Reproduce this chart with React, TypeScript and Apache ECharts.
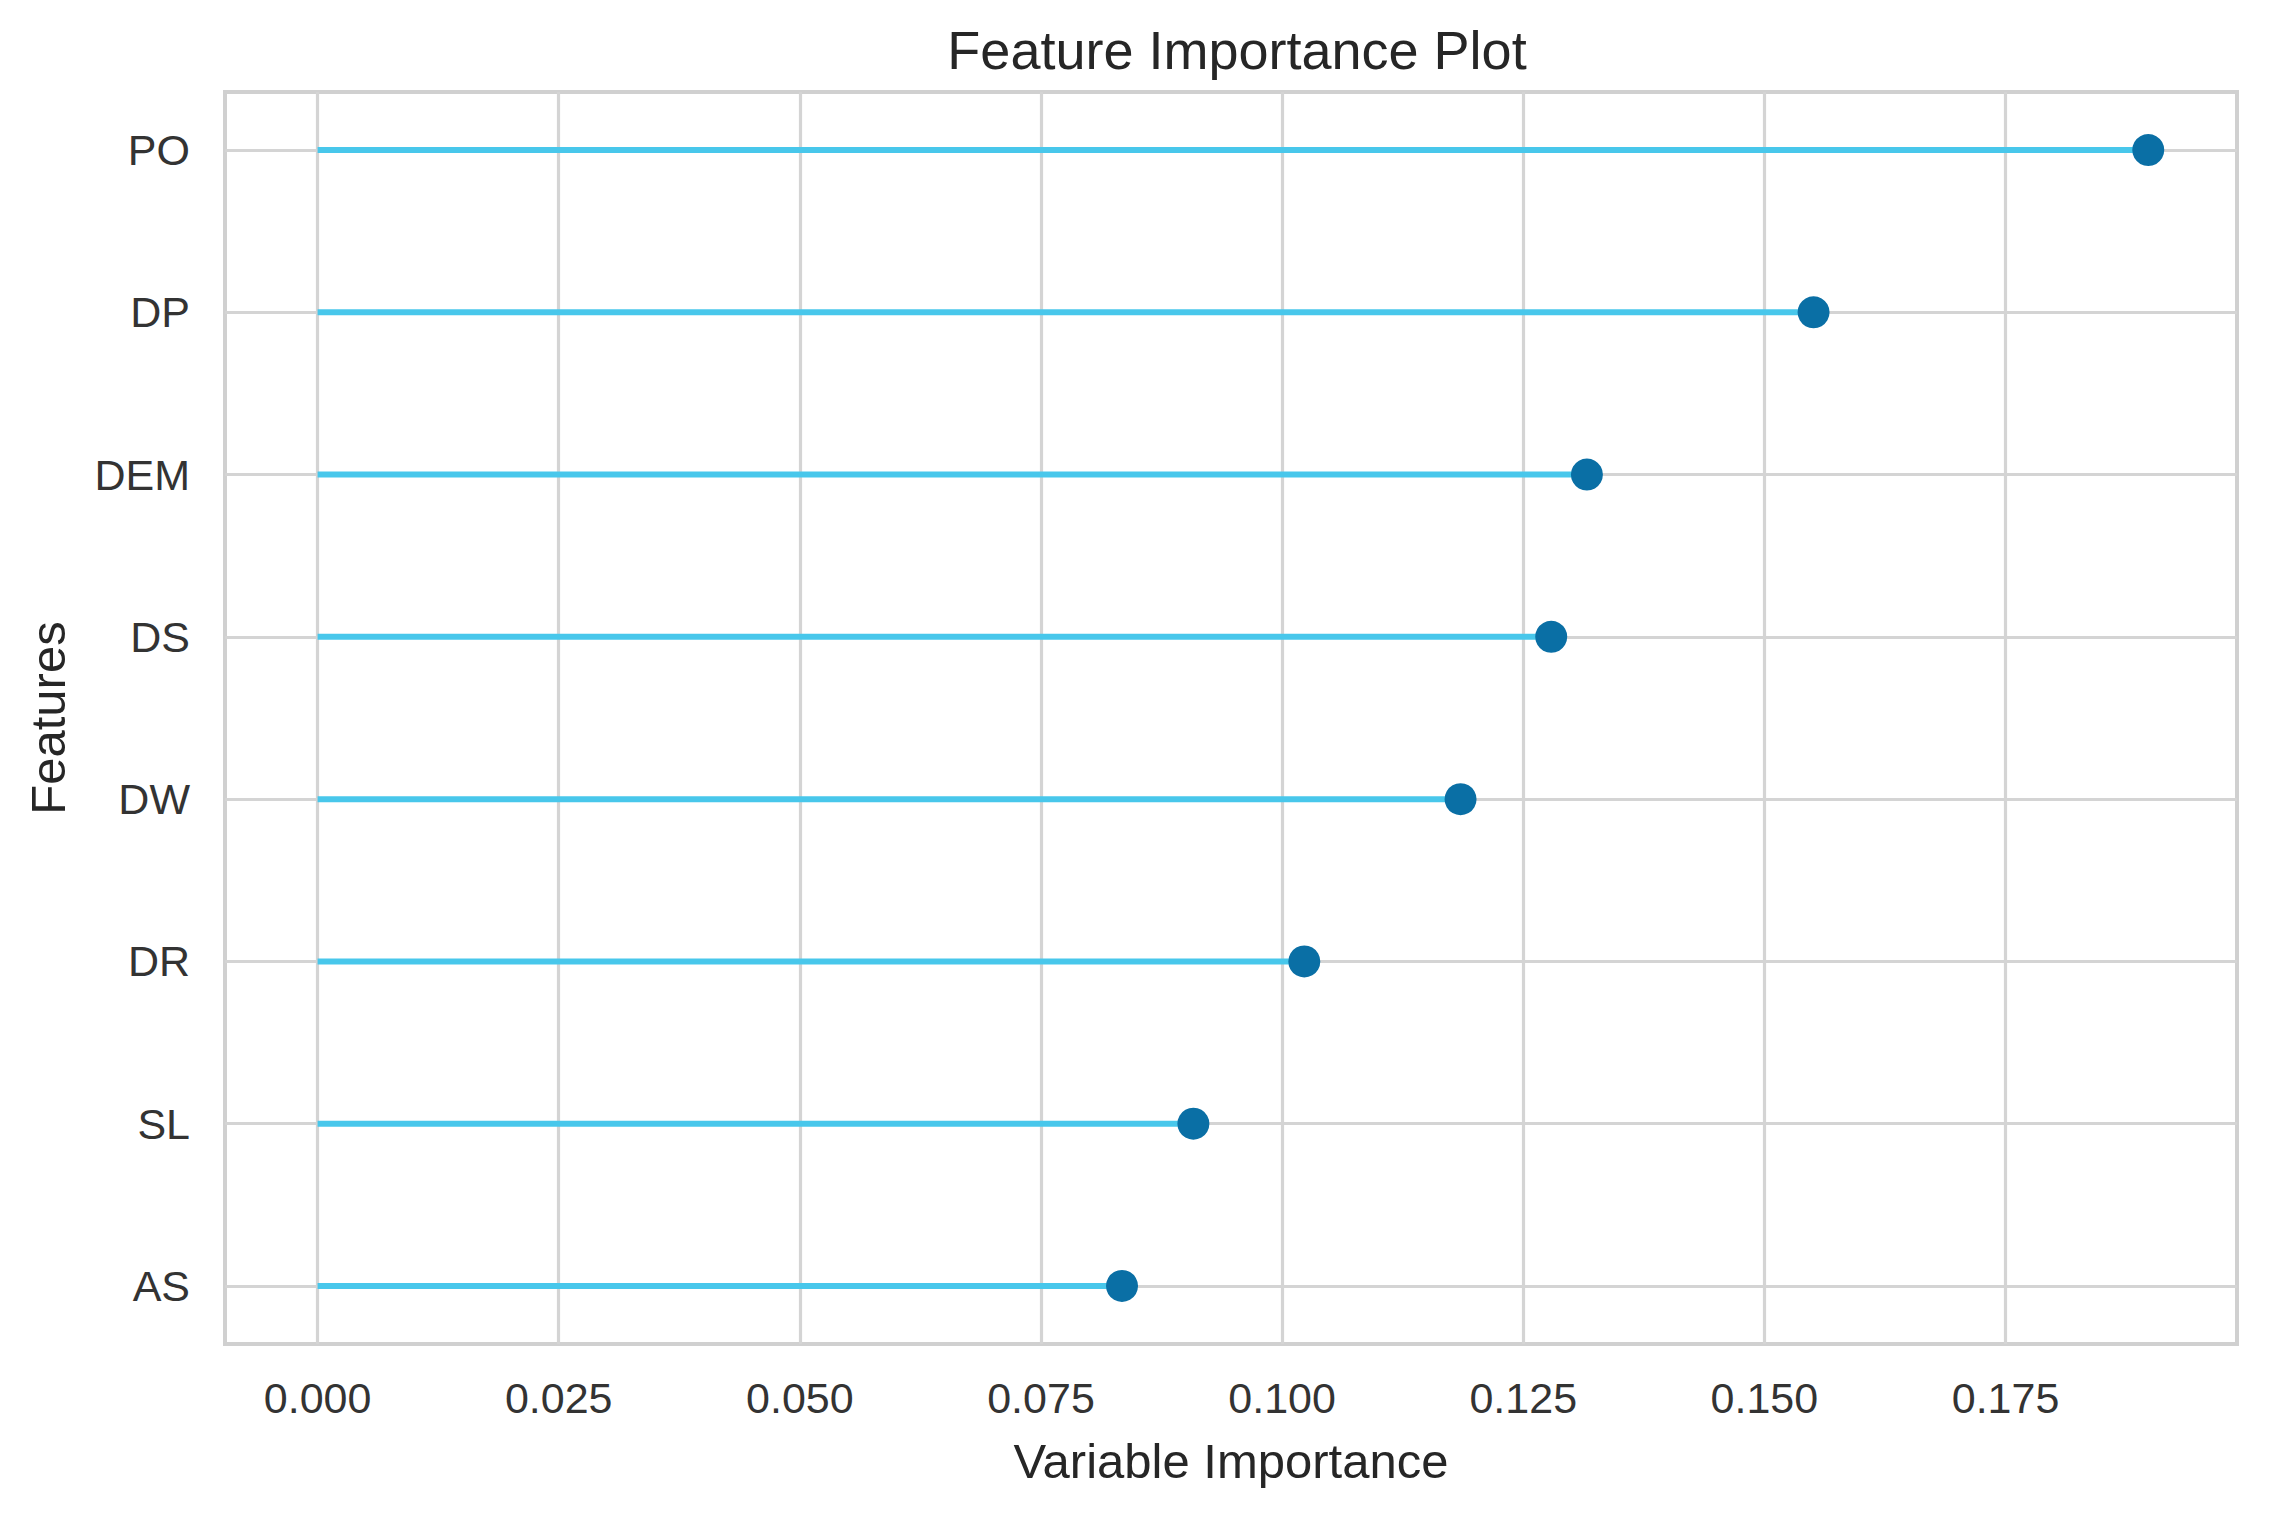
import React, { useEffect, useRef } from "react";
import * as echarts from "echarts";

const categories = ["PO", "DP", "DEM", "DS", "DW", "DR", "SL", "AS"];
const importance = [0.1898, 0.1551, 0.1316, 0.1279, 0.1185, 0.1023, 0.0908, 0.0834];
const xTicks = [0, 0.025, 0.05, 0.075, 0.1, 0.125, 0.15, 0.175];
const yTicks = [0, 1, 2, 3, 4, 5, 6, 7];

const FONT = "'Liberation Sans', Arial, sans-serif";

export default function App() {
  const ref = useRef<HTMLDivElement>(null);
  useEffect(() => {
    if (!ref.current) return;
    const chart = echarts.init(ref.current, undefined, { renderer: "svg" });
    const points = importance.map((v, i) => [v, i]);
    chart.setOption({
      animation: false,
      backgroundColor: "#ffffff",
      title: {
        text: "Feature Importance Plot",
        left: 1232,
        top: 45,
        textAlign: "center",
        textVerticalAlign: "middle",
        textStyle: { fontFamily: FONT, fontSize: 54, fontWeight: "normal", color: "#262626" },
      },
      grid: {
        left: 225,
        top: 92,
        width: 2012,
        height: 1252,
        show: true,
        borderColor: "#d0d0d0",
        borderWidth: 4,
        backgroundColor: "#ffffff",
      },
      xAxis: {
        type: "value",
        min: -0.0096,
        max: 0.199,
        name: "Variable Importance",
        nameLocation: "middle",
        nameGap: 92,
        nameTextStyle: { fontFamily: FONT, fontSize: 49, color: "#262626" },
        axisLine: { show: false },
        axisTick: { show: false, customValues: xTicks },
        axisLabel: {
          customValues: xTicks,
          fontFamily: FONT,
          fontSize: 43,
          color: "#333333",
          margin: 32,
          formatter: (v: number) => v.toFixed(3),
        },
        splitLine: { show: true, lineStyle: { color: "#d4d4d4", width: 3.2 } },
      },
      yAxis: {
        type: "value",
        inverse: true,
        min: -0.358,
        max: 7.358,
        name: "Features",
        nameLocation: "middle",
        nameGap: 153,
        nameRotate: 90,
        nameTextStyle: { fontFamily: FONT, fontSize: 49, color: "#262626" },
        axisLine: { show: false },
        axisTick: { show: false, customValues: yTicks },
        axisLabel: {
          customValues: yTicks,
          fontFamily: FONT,
          fontSize: 43,
          color: "#333333",
          margin: 35,
          formatter: (v: number) => categories[Math.round(v)] ?? "",
        },
        splitLine: { show: true, lineStyle: { color: "#d4d4d4", width: 3.2 } },
      },
      series: [
        {
          type: "custom",
          data: points,
          renderItem: (params: any, api: any) => {
            const v = api.value(0);
            const i = api.value(1);
            const p0 = api.coord([0, i]);
            const p1 = api.coord([v, i]);
            return {
              type: "line",
              shape: { x1: p0[0], y1: p0[1], x2: p1[0], y2: p1[1] },
              style: { stroke: "#48c7eb", lineWidth: 6 },
            };
          },
          z: 2,
        },
        {
          type: "scatter",
          data: points,
          symbol: "circle",
          symbolSize: 32,
          itemStyle: { color: "#0a6fa5", opacity: 1 },
          z: 3,
        },
      ],
    });
    return () => chart.dispose();
  }, []);
  return (
    <div
      ref={ref}
      style={{ position: "fixed", left: 0, top: 0, width: 2278, height: 1521 }}
    />
  );
}
